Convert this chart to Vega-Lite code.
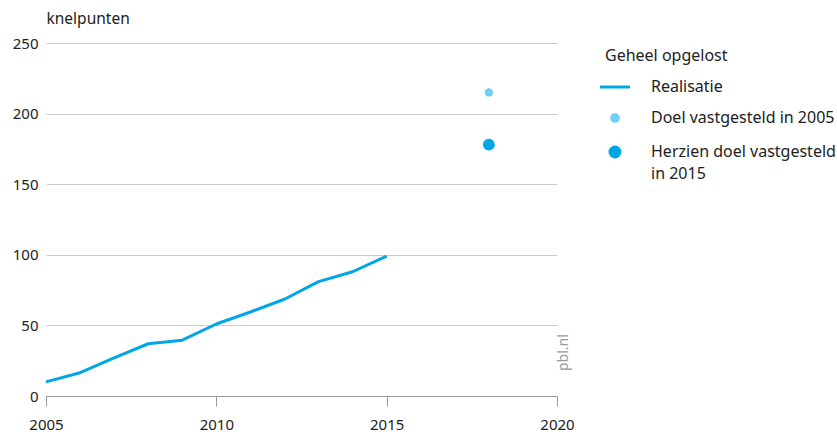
{
  "$schema": "https://vega.github.io/schema/vega-lite/v6.json",
  "width": 511,
  "height": 353,
  "autosize": "none",
  "padding": {"left": 46, "top": 43, "right": 280, "bottom": 38},
  "background": "white",
  "config": {
    "font": "Noto Sans",
    "view": {"stroke": null},
    "axis": {"labelFont": "Noto Sans", "titleFont": "Noto Sans", "labelColor": "#222", "titleColor": "#222", "labelFontSize": 15, "titleFontSize": 15.5, "titleFontWeight": "normal"},
    "legend": {"labelFont": "Noto Sans", "titleFont": "Noto Sans", "labelFontSize": 16, "titleFontSize": 16, "titleFontWeight": "normal", "labelColor": "#222", "titleColor": "#222"}
  },
  "datasets": {
    "real": [
      {"jaar": 2005, "waarde": 10, "reeks": "Realisatie"},
      {"jaar": 2006, "waarde": 16.5, "reeks": "Realisatie"},
      {"jaar": 2007, "waarde": 27, "reeks": "Realisatie"},
      {"jaar": 2008, "waarde": 37, "reeks": "Realisatie"},
      {"jaar": 2009, "waarde": 39.5, "reeks": "Realisatie"},
      {"jaar": 2010, "waarde": 51, "reeks": "Realisatie"},
      {"jaar": 2011, "waarde": 59.5, "reeks": "Realisatie"},
      {"jaar": 2012, "waarde": 68.5, "reeks": "Realisatie"},
      {"jaar": 2013, "waarde": 81, "reeks": "Realisatie"},
      {"jaar": 2014, "waarde": 88, "reeks": "Realisatie"},
      {"jaar": 2015, "waarde": 99, "reeks": "Realisatie"}
    ],
    "doel": [
      {"jaar": 2018, "waarde": 215, "reeks": "Doel vastgesteld in 2005"},
      {"jaar": 2018, "waarde": 178, "reeks": "Herzien doel vastgesteld in 2015"}
    ],
    "bron": [
      {"jaar": 2020, "waarde": 0, "tekst": "pbl.nl"}
    ]
  },
  "layer": [
    {
      "data": {"name": "real"},
      "mark": {"type": "line", "strokeWidth": 3, "strokeJoin": "round"},
      "encoding": {
        "x": {
          "field": "jaar", "type": "quantitative",
          "scale": {"domain": [2005, 2020], "nice": false, "zero": false},
          "axis": {"values": [2005, 2010, 2015, 2020], "format": "d", "title": null, "grid": false, "domainColor": "#999", "tickColor": "#999", "tickSize": 10, "labelPadding": 11, "labelFlush": false}
        },
        "y": {
          "field": "waarde", "type": "quantitative",
          "scale": {"domain": [0, 250], "nice": false},
          "axis": {"values": [0, 50, 100, 150, 200, 250], "title": "knelpunten", "titleAngle": 0, "titleAlign": "left", "titleBaseline": "alphabetic", "titleX": 0, "titleY": -20, "domain": false, "ticks": false, "labelPadding": 8, "gridColor": "#ccc", "gridWidth": 1}
        },
        "color": {
          "field": "reeks", "type": "nominal",
          "scale": {"domain": ["Realisatie", "Doel vastgesteld in 2005", "Herzien doel vastgesteld in 2015"], "range": ["#00a6e6", "#6ccff6", "#00a6e6"]},
          "legend": {
            "title": "Geheel opgelost",
            "orient": "none",
            "legendX": 559,
            "legendY": 5,
            "titlePadding": 15,
            "rowPadding": 13,
            "symbolSize": 900,
            "symbolOffset": 2,
            "labelOffset": 28,
            "labelLimit": 400,
            "labelExpr": "datum.label == 'Herzien doel vastgesteld in 2015' ? ['Herzien doel vastgesteld', 'in 2015'] : datum.label",
            "encode": {
              "symbols": {"update": {
                "shape": {"signal": "datum.value === 'Realisatie' ? 'stroke' : 'circle'"},
                "size": {"signal": "datum.value === 'Realisatie' ? 900 : (datum.value === 'Doel vastgesteld in 2005' ? 45 : 100)"},
                "fill": {"signal": "datum.value === 'Realisatie' ? 'transparent' : scale('color', datum.value)"},
                "stroke": {"signal": "datum.value === 'Realisatie' ? scale('color', datum.value) : 'transparent'"},
                "strokeWidth": {"value": 3},
                "opacity": {"value": 1}
              }},
              "labels": {"update": {
                "lineHeight": {"value": 22},
                "dy": {"value": 0}
              }}
            }
          }
        }
      }
    },
    {
      "data": {"name": "doel"},
      "mark": {"type": "point", "filled": true, "opacity": 1},
      "encoding": {
        "x": {"field": "jaar", "type": "quantitative"},
        "y": {"field": "waarde", "type": "quantitative"},
        "color": {"field": "reeks", "type": "nominal"},
        "size": {"field": "reeks", "type": "nominal", "scale": {"domain": ["Doel vastgesteld in 2005", "Herzien doel vastgesteld in 2015"], "range": [70, 140]}, "legend": null}
      }
    },
    {
      "data": {"name": "bron"},
      "mark": {"type": "text", "angle": -90, "align": "left", "baseline": "alphabetic", "fontSize": 14, "color": "#999", "dx": 25, "dy": 11},
      "encoding": {
        "x": {"field": "jaar", "type": "quantitative"},
        "y": {"field": "waarde", "type": "quantitative"},
        "text": {"field": "tekst"}
      }
    }
  ]
}
